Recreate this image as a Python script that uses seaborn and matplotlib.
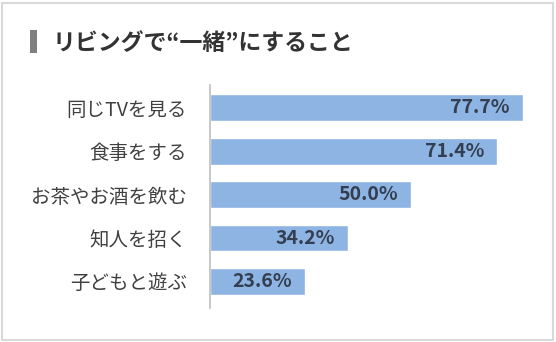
import matplotlib
matplotlib.use("Agg")
import matplotlib.pyplot as plt
import matplotlib.patches as patches
import seaborn as sns
import pandas as pd

categories = ["同じTVを見る", "食事をする", "お茶やお酒を飲む", "知人を招く", "子どもと遊ぶ"]
values = [77.7, 71.4, 50.0, 34.2, 23.6]
value_labels = ["77.7%", "71.4%", "50.0%", "34.2%", "23.6%"]
title = "リビングで“一緒”にすること"

sns.set_style("white")
plt.rcParams["font.family"] = ["Noto Sans CJK JP", "DejaVu Sans"]

df = pd.DataFrame({"item": categories, "pct": values})

fig = plt.figure(figsize=(5.56, 3.42), dpi=100)
ax = fig.add_axes([210 / 556, (342 - 308) / 342, 338 / 556, (308 - 85) / 342])

sns.barplot(data=df, x="pct", y="item", orient="h", color="#8EB4E3",
            saturation=1, width=0.62, ax=ax)

ax.set_xlim(0, 84)
ax.set_ylim(4.61, -0.52)
ax.set_xlabel("")
ax.set_ylabel("")
ax.set_xticks([])
for s in ["top", "right", "bottom"]:
    ax.spines[s].set_visible(False)
ax.spines["left"].set_color("#bfbfbf")
ax.spines["left"].set_linewidth(1.2)
ax.tick_params(axis="y", length=0, pad=16.5, labelsize=14, labelcolor="#404040")

for i, (v, lab) in enumerate(zip(values, value_labels)):
    ax.annotate(lab, xy=(v, i), xytext=(-13, 0), textcoords="offset pixels",
                ha="right", va="center", fontsize=14, fontweight="bold",
                color="#333f50")

# title with a grey marker block
fig.patches.append(patches.Rectangle((30 / 556, (342 - 53) / 342), 7 / 556, 23 / 342,
                                     transform=fig.transFigure, facecolor="#808080",
                                     edgecolor="none"))
fig.text(53 / 556, (342 - 43) / 342, title, ha="left", va="center",
         fontsize=16.5, fontweight="bold", color="#333333")

# outer frame
fig.patches.append(patches.Rectangle((2 / 556, 2 / 342), 551 / 556, 337 / 342,
                                     transform=fig.transFigure, facecolor="none",
                                     edgecolor="#d9d9d9", linewidth=1.5))

fig.savefig("out.png", dpi=100)
